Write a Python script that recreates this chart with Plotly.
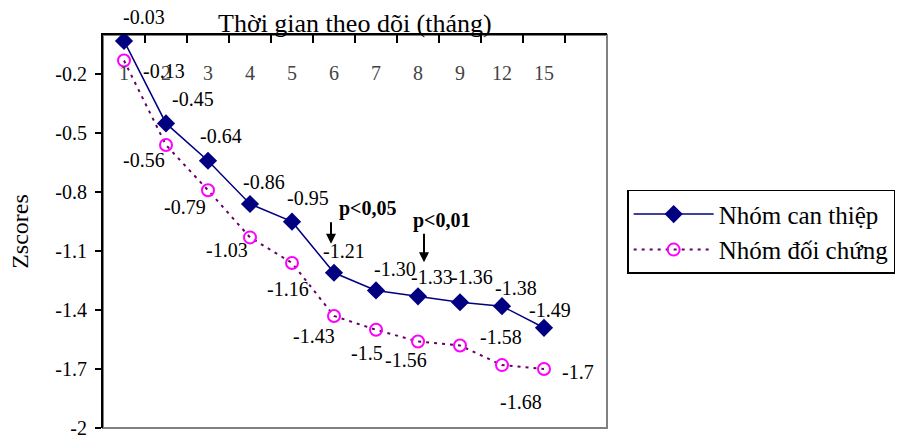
import plotly.graph_objects as go

# ---- data ----
months = ["1", "2", "3", "4", "5", "6", "7", "8", "9", "12", "15"]
intervention = [-0.03, -0.45, -0.64, -0.86, -0.95, -1.21, -1.30, -1.33, -1.36, -1.38, -1.49]
control = [-0.13, -0.56, -0.79, -1.03, -1.16, -1.43, -1.5, -1.56, -1.58, -1.68, -1.7]
interv_name = "Nhóm can thiệp"
control_name = "Nhóm đối chứng"
x_title = "Thời gian theo dõi (tháng)"
y_title = "Zscores"
y_ticks = [-2, -1.7, -1.4, -1.1, -0.8, -0.5, -0.2]
sig_notes = [("6", "p<0,05"), ("8", "p<0,01")]

# ---- styles (label offsets in px: right, up) ----
interv_off = [(20, 24), (27, 24), (13, 25), (14, 22), (16, 24), (10, 22),
              (19, 21), (14, 19), (12, 25), (14, 18), (6, 18)]
control_off = [(40, -10), (-22, -15), (-23, -17), (-23, -13), (-4, -26), (-20, -20),
               (-9, -23), (-12, -18), (41, 8), (19, -37), (34, -3)]
# arrow: (xshift, head above marker px, arrow length px, text dx, text dy)
sig_style = [(-3, 29, 23, 34, 64), (6, 34, 30, 24, 76)]

FONT = "Liberation Serif, Times New Roman, serif"
NAVY = "#000080"
MAGENTA = "#FF00FF"
PURPLE = "#660066"

fig = go.Figure()
fig.add_trace(go.Scatter(
    x=months, y=intervention, name=interv_name, mode="lines+markers",
    line=dict(color=NAVY, width=1.5),
    marker=dict(symbol="diamond", size=14, color=NAVY, line=dict(width=0)),
))
fig.add_trace(go.Scatter(
    x=months, y=control, name=control_name, mode="lines+markers",
    line=dict(color=PURPLE, width=2, dash="3px,5px"),
    marker=dict(symbol="circle-open", size=12, color=MAGENTA, line=dict(width=2, color=MAGENTA)),
))

ann = []
for i, (v, (dx, dy)) in enumerate(zip(intervention, interv_off)):
    ann.append(dict(x=i, y=v, text=f"{v:.2f}", showarrow=False, xshift=dx, yshift=dy,
                    font=dict(family=FONT, size=20, color="black")))
for i, (v, (dx, dy)) in enumerate(zip(control, control_off)):
    ann.append(dict(x=i, y=v, text=f"{v:g}", showarrow=False, xshift=dx, yshift=dy,
                    font=dict(family=FONT, size=20, color="black")))
for (m, txt), (xs, up, ln, tdx, tdy) in zip(sig_notes, sig_style):
    i = months.index(m)
    v = intervention[i]
    ann.append(dict(x=i, y=v, text="", showarrow=True, xshift=xs, yshift=up,
                    ax=0, ay=-ln, arrowhead=2, arrowsize=1, arrowwidth=2,
                    arrowcolor="black", standoff=0, startstandoff=0))
    ann.append(dict(x=i, y=v, text=f"<b>{txt}</b>", showarrow=False, xshift=tdx, yshift=tdy,
                    font=dict(family=FONT, size=20, color="black")))
# top category-axis title (sits on the axis line as in the reference)
ann.append(dict(x=0.5, y=1, xref="paper", yref="paper", text=x_title, showarrow=False,
                xanchor="center", yanchor="middle", yshift=12,
                font=dict(family=FONT, size=26, color="black")))

fig.update_layout(
    width=899, height=437,
    margin=dict(l=103, r=292, t=35, b=9, autoexpand=False),
    paper_bgcolor="white", plot_bgcolor="white",
    font=dict(family=FONT, size=20, color="black"),
    annotations=ann,
    showlegend=True,
    legend=dict(x=1.04, y=0.606, xanchor="left", yanchor="top",
                bordercolor="black", borderwidth=1.5, bgcolor="white",
                itemwidth=80, tracegroupgap=0,
                font=dict(family=FONT, size=25, color="black")),
    shapes=[dict(type="rect", xref="paper", yref="paper", x0=0, x1=1, y0=0, y1=1,
                 line=dict(color="#808080", width=2), layer="below")],
)
fig.update_xaxes(
    type="category", categoryorder="array", categoryarray=months,
    range=[-0.5, len(months) + 0.5], side="top", automargin=False,
    showline=True, linecolor="black", linewidth=2,
    ticks="inside", ticklen=8, tickwidth=1.5, tickcolor="black", tickson="boundaries",
    ticklabelposition="inside", ticklabelstandoff=24, ticklabeloverflow="allow",
    tickfont=dict(family=FONT, size=20),
    showgrid=False, zeroline=False,
)
fig.update_yaxes(
    range=[-2, 0], tickvals=y_ticks, ticktext=[f"{t:g}" for t in y_ticks],
    automargin=False,
    showline=True, linecolor="black", linewidth=2,
    ticks="outside", ticklen=6, tickwidth=1.5, tickcolor="black",
    ticklabelstandoff=4, ticklabeloverflow="allow",
    tickfont=dict(family=FONT, size=20),
    showgrid=False, zeroline=False,
    title=dict(text=y_title, font=dict(family=FONT, size=24), standoff=20),
)

fig.write_html("out.html")
